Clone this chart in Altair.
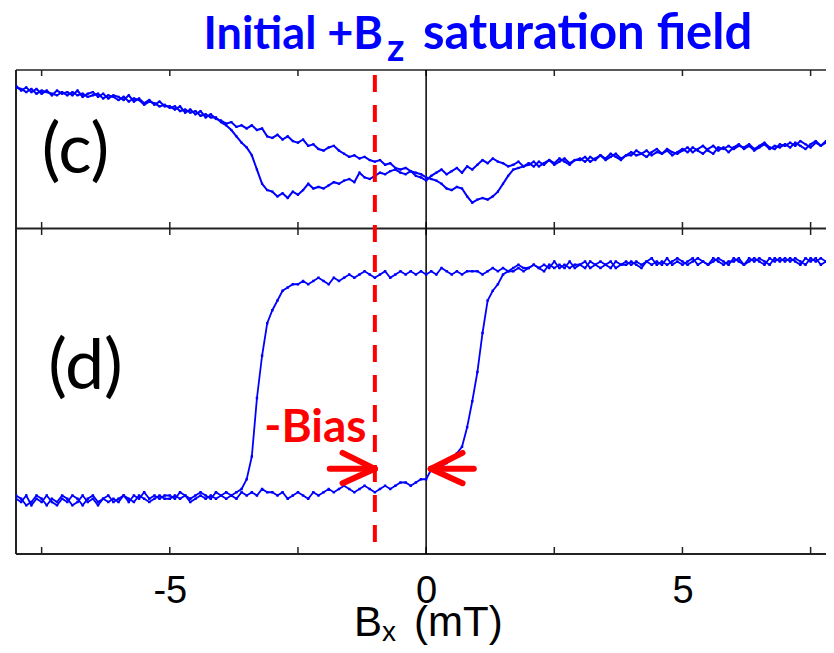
import altair as alt
import pandas as pd

# ---------------- data ----------------
field_mT = [round(-8 + 0.1 * i, 1) for i in range(161)]

# panel (c): two sweeps (arbitrary units, 0-100 = panel height)
c_sweep_a = [
    90, 87, 89, 86, 88, 85, 87, 84, 87, 85,
    86, 84, 87, 83, 85, 86, 83, 85, 82, 84,
    83, 81, 84, 80, 82, 79, 81, 78, 80, 77,
    77, 75, 77, 73, 75, 72, 74, 70, 72, 69,
    68, 66, 67, 64, 65, 63, 65, 62, 63, 58,
    57, 59, 56, 58, 55, 54, 56, 52, 53, 50,
    49, 51, 52, 49, 47, 45, 46, 44, 45, 43,
    42, 43, 40, 41, 38, 37, 38, 36, 35, 34,
    32, 31, 30, 28, 25, 24, 26, 25, 20, 16,
    18, 19, 18, 20, 23, 28, 33, 37, 38, 39,
    40, 42, 39, 41, 43, 40, 42, 44, 41, 43,
    44, 42, 45, 43, 46, 44, 47, 45, 43, 46,
    46, 49, 47, 45, 48, 50, 47, 49, 46, 48,
    50, 48, 51, 49, 47, 50, 52, 49, 51, 48,
    51, 53, 50, 52, 49, 51, 53, 50, 52, 51,
    53, 51, 54, 52, 50, 53, 55, 52, 54, 53,
    54,
]
c_sweep_b = [
    89, 88, 86, 88, 85, 87, 86, 85, 84, 86,
    84, 86, 84, 85, 83, 84, 85, 82, 84, 83,
    81, 83, 80, 82, 81, 78, 80, 79, 77, 78,
    76, 77, 74, 75, 73, 74, 71, 72, 70, 70,
    67, 65, 62, 58, 54, 51, 46, 37, 28, 24,
    23, 20, 22, 19, 23, 21, 24, 28, 25, 26,
    25, 27, 29, 28, 30, 31, 29, 35, 32, 31,
    33, 35, 34, 36, 37, 35, 34, 36, 33, 32,
    30, 33, 35, 37, 34, 36, 38, 35, 39, 37,
    40, 43, 41, 44, 42, 41, 39, 40, 42, 39,
    41, 39, 42, 40, 43, 41, 44, 42, 40, 43,
    43, 45, 42, 44, 46, 43, 45, 47, 44, 46,
    48, 46, 47, 49, 46, 48, 47, 50, 48, 47,
    49, 51, 48, 50, 52, 49, 47, 51, 50, 52,
    50, 52, 51, 53, 50, 52, 54, 51, 50, 53,
    52, 54, 52, 55, 53, 51, 54, 52, 55, 53,
    53,
]

# panel (d): hysteresis loop (arbitrary units, 0-100 = panel height)
d_sweep_up = [
    17, 16, 18, 15, 17, 16, 18, 16, 15, 17,
    16, 18, 17, 15, 17, 18, 16, 17, 18, 16,
    17, 18, 16, 18, 17, 19, 17, 18, 17, 18,
    18, 17, 19, 18, 17, 18, 19, 18, 17, 19,
    18, 19, 18, 17, 19, 18, 19, 18, 20, 19,
    19, 18, 19, 17, 18, 19, 18, 17, 19, 18,
    19, 20, 19, 20, 21, 20, 19, 20, 21, 20,
    19, 20, 21, 20, 21, 22, 22, 21, 22, 23,
    23, 26, 26, 27, 28, 29, 31, 33, 39, 47,
    56, 68, 78, 81, 83, 86, 87, 87, 88, 87,
    88, 89, 88, 87, 89, 88, 89, 88, 90, 88,
    89, 88, 90, 89, 88, 89, 90, 88, 89, 89,
    90, 89, 88, 90, 89, 90, 89, 91, 89, 90,
    89, 90, 91, 89, 90, 89, 91, 90, 89, 90,
    90, 91, 89, 90, 91, 90, 89, 91, 90, 91,
    90, 91, 90, 89, 91, 90, 91, 89, 90, 91,
    90,
]
d_sweep_down = [
    18, 17, 15, 16, 18, 17, 15, 17, 16, 18,
    17, 15, 16, 18, 16, 17, 15, 17, 16, 17,
    16, 18, 17, 16, 18, 17, 16, 17, 18, 17,
    17, 18, 17, 18, 16, 17, 18, 17, 18, 17,
    18, 17, 18, 19, 20, 23, 30, 48, 61, 71,
    75, 78, 81, 82, 83, 83, 84, 83, 84, 85,
    84, 83, 85, 84, 85, 86, 85, 86, 87, 86,
    85, 86, 87, 85, 86, 87, 86, 87, 86, 87,
    86, 87, 86, 88, 87, 86, 87, 86, 87, 87,
    87, 86, 87, 88, 87, 88, 87, 88, 89, 88,
    88, 89, 88, 89, 88, 90, 88, 89, 88, 89,
    89, 90, 88, 89, 90, 89, 88, 90, 89, 90,
    89, 90, 89, 90, 91, 89, 90, 89, 90, 91,
    90, 89, 90, 91, 90, 89, 90, 91, 90, 89,
    91, 90, 89, 91, 90, 91, 90, 89, 91, 90,
    91, 90, 91, 90, 89, 91, 90, 91, 90, 91,
    90,
]

tick_positions = [-7.5, -5, -2.5, 0, 2.5, 5, 7.5]
tick_labels = [-5, 0, 5]
bias_field = [-1.0]
zero_field = [0.0]

# arrows (field in mT, signal in panel-(d) units)
arrow_x_start = [-1.88, -1.63, -1.63, 0.93, 0.71, 0.71]
arrow_y_start = [26.2, 31.1, 21.8, 26.2, 31.1, 21.8]
arrow_x_end = [-1.0, -1.0, -1.0, 0.09, 0.09, 0.09]
arrow_y_end = [26.2, 26.2, 26.2, 26.2, 26.2, 26.2]
bias_label = ["-Bias"]
bias_label_x = [-2.16]
bias_label_y = [34.5]

panel_labels = ["(c)", "(d)"]
title_parts = ["Initial +B", "z", "saturation field"]
xtitle_parts = ["B", "x", "(mT)"]

# ---------------- layout constants ----------------
W, H = 810, 484
C_RANGE = [158, 0]
D_RANGE = [484, 159]
BLUE = "#0000ff"
RED = "#ff0000"
FRAME = "#222222"
SANS = "Liberation Sans"

xscale = alt.Scale(domain=[-8, 7.8], nice=False, zero=False)
xaxis = alt.Axis(values=tick_labels, ticks=False, tickSize=0, domain=False, grid=False,
                 labelFont=SANS, labelFontSize=38, labelPadding=18,
                 labelColor="black", title=None, labelFlush=False,
                 labelExpr="datum.value < 0 ? '-' + format(-datum.value, 'd') : format(datum.value, 'd')")


def X(field):
    return alt.X(field, type="quantitative", scale=xscale, axis=xaxis)


c_y = dict(scale=alt.Scale(domain=[0, 100], range=C_RANGE, nice=False), axis=None)
d_y = dict(scale=alt.Scale(domain=[0, 100], range=D_RANGE, nice=False), axis=None)

c_df = pd.DataFrame({"B": field_mT * 2, "v": c_sweep_a + c_sweep_b,
                     "sweep": ["a"] * 161 + ["b"] * 161})
d_df = pd.DataFrame({"B": field_mT * 2, "v": d_sweep_up + d_sweep_down,
                     "sweep": ["up"] * 161 + ["down"] * 161})
ticks_df = pd.DataFrame({"B": tick_positions})
one = pd.DataFrame({"k": [0]})

layers = []

# frame
layers.append(alt.Chart(one).mark_rule(color=FRAME, strokeWidth=1.5).encode(
    x=alt.value(0), x2=alt.value(W), y=alt.value(0)))
layers.append(alt.Chart(one).mark_rule(color=FRAME, strokeWidth=2).encode(
    x=alt.value(0), x2=alt.value(W), y=alt.value(158.5)))
layers.append(alt.Chart(one).mark_rule(color=FRAME, strokeWidth=2).encode(
    x=alt.value(0), x2=alt.value(W), y=alt.value(H)))
layers.append(alt.Chart(one).mark_rule(color=FRAME, strokeWidth=2).encode(
    x=alt.value(0), y=alt.value(0), y2=alt.value(H)))

# ticks (inward at top and bottom, crossing at the panel boundary)
for y0, y1 in [(0, 6), (152, 165), (H - 7, H)]:
    layers.append(alt.Chart(ticks_df).mark_rule(color=FRAME, strokeWidth=1.5).encode(
        x=X("B"), y=alt.value(y0), y2=alt.value(y1)))

# zero line
layers.append(alt.Chart(pd.DataFrame({"B": zero_field})).mark_rule(
    color="black", strokeWidth=1.5).encode(x=X("B"), y=alt.value(0), y2=alt.value(H)))

# panel (c)
layers.append(alt.Chart(c_df).mark_line(color=BLUE, strokeWidth=2, clip=True).encode(
    x=X("B"), y=alt.Y("v:Q", **c_y), detail="sweep:N"))
layers.append(alt.Chart(c_df).mark_square(color=BLUE, size=5, opacity=1, clip=True).encode(
    x=X("B"), y=alt.Y("v:Q", **c_y)))

# panel (d)
layers.append(alt.Chart(d_df).mark_line(color=BLUE, strokeWidth=1.8, clip=True).encode(
    x=X("B"), y=alt.Y("v:Q", **d_y), detail="sweep:N"))
layers.append(alt.Chart(d_df).mark_square(color=BLUE, size=6, opacity=1, clip=True).encode(
    x=X("B"), y=alt.Y("v:Q", **d_y)))

# bias line
layers.append(alt.Chart(pd.DataFrame({"B": bias_field})).mark_rule(
    color=RED, strokeWidth=4, strokeDash=[17, 13]).encode(
    x=X("B"), y=alt.value(5), y2=alt.value(H - 6)))

# arrows
arrow_df = pd.DataFrame({"x": arrow_x_start, "y": arrow_y_start,
                         "x2": arrow_x_end, "y2": arrow_y_end})
layers.append(alt.Chart(arrow_df).mark_rule(color=RED, strokeWidth=6, strokeCap="round").encode(
    x=X("x"), x2="x2:Q", y=alt.Y("y:Q", **d_y), y2="y2:Q"))

# -Bias label
bias_df = pd.DataFrame({"x": bias_label_x, "y": bias_label_y, "t": bias_label})
layers.append(alt.Chart(bias_df).mark_text(
    color=RED, font="Lato", fontWeight="bold", fontSize=46, align="center",
    baseline="alphabetic").encode(x=X("x"), y=alt.Y("y:Q", **d_y), text="t:N"))

# panel labels
layers.append(alt.Chart(pd.DataFrame({"t": [panel_labels[0]]})).mark_text(
    font="Lato", fontSize=70, color="black", align="center", baseline="alphabetic").encode(
    x=alt.value(59.5), y=alt.value(103), text="t:N"))
layers.append(alt.Chart(pd.DataFrame({"t": [panel_labels[1]]})).mark_text(
    font="Lato", fontSize=70, color="black", align="center", baseline="alphabetic").encode(
    x=alt.value(69.5), y=alt.value(319), text="t:N"))

# title with subscript
layers.append(alt.Chart(pd.DataFrame({"t": [title_parts[0]]})).mark_text(
    font="Lato", fontWeight="bold", fontSize=45, color=BLUE, align="right",
    baseline="alphabetic").encode(x=alt.value(367), y=alt.value(-21), text="t:N"))
layers.append(alt.Chart(pd.DataFrame({"t": [title_parts[1]]})).mark_text(
    font="Lato", fontWeight="bold", fontSize=38, color=BLUE, align="left",
    baseline="alphabetic").encode(x=alt.value(371), y=alt.value(-9), text="t:N"))
layers.append(alt.Chart(pd.DataFrame({"t": [title_parts[2]]})).mark_text(
    font="Lato", fontWeight="bold", fontSize=49, color=BLUE, align="left",
    baseline="alphabetic").encode(x=alt.value(407), y=alt.value(-21), text="t:N"))

# x-axis title with subscript
layers.append(alt.Chart(pd.DataFrame({"t": [xtitle_parts[0]]})).mark_text(
    font=SANS, fontSize=42, color="black", align="left", baseline="alphabetic").encode(
    x=alt.value(338), y=alt.value(566), text="t:N"))
layers.append(alt.Chart(pd.DataFrame({"t": [xtitle_parts[1]]})).mark_text(
    font=SANS, fontSize=28, color="black", align="left", baseline="alphabetic").encode(
    x=alt.value(366), y=alt.value(571), text="t:N"))
layers.append(alt.Chart(pd.DataFrame({"t": [xtitle_parts[2]]})).mark_text(
    font=SANS, fontSize=42, color="black", align="left", baseline="alphabetic").encode(
    x=alt.value(398), y=alt.value(566), text="t:N"))

chart = alt.layer(*layers).resolve_scale(y="independent").properties(
    width=W, height=H,
    autosize=alt.AutoSizeParams(type="none"),
    padding={"left": 8, "top": 62, "right": 0, "bottom": 91},
).configure_view(stroke=None)

chart.save("out.html", embed_options={"renderer": "svg", "actions": False})
